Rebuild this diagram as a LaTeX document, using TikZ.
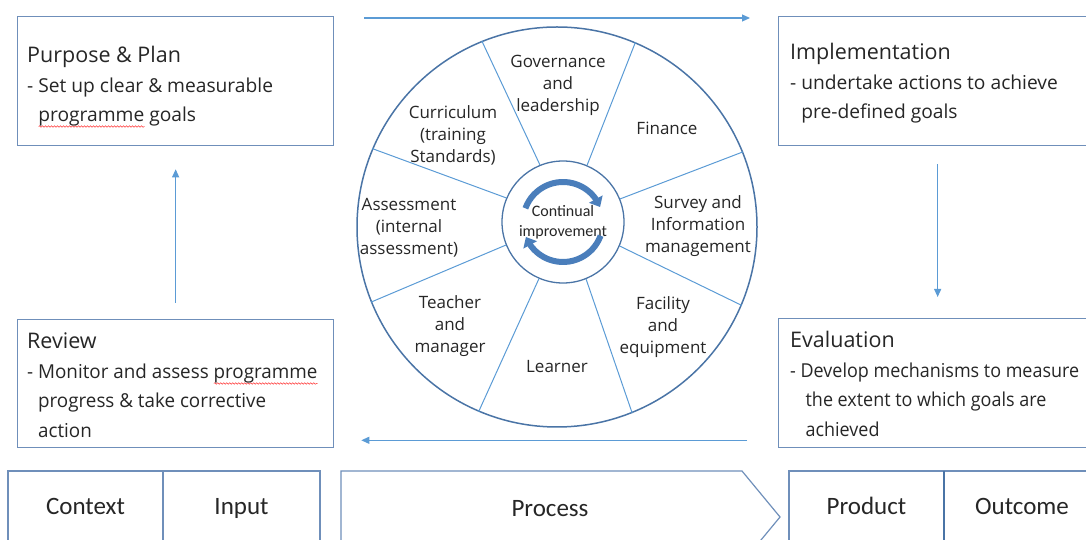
\documentclass[tikz,border=0pt]{standalone}
\usepackage{fontspec}
\setmainfont{Open Sans}
\newfontfamily\slimfont{Open Sans}[FakeStretch=0.98]
\newfontfamily\tightfont{Open Sans}[FakeStretch=0.935]
\newfontfamily\narrowfont{Carlito}
\usetikzlibrary{arrows.meta,bending,decorations.pathmorphing}

\definecolor{frame}{HTML}{6F8FBA}
\definecolor{flowblue}{HTML}{5B9BD5}
\definecolor{rim}{HTML}{4A74A6}
\definecolor{spinblue}{HTML}{4A7EBB}
\definecolor{ink}{HTML}{262626}

% stage heading, a little larger than the body
\newcommand\head[1]{{\fontsize{21.5}{29.5}\selectfont #1}}
% red spell-check wave under a word
\newlength\typowd
\newcommand\typo[1]{\settowidth\typowd{#1}\rlap{\tikz[baseline=0pt]
  \draw[red!80, line width=0.5pt, decorate, decoration={snake, amplitude=0.8pt, segment length=3pt}]
    (0pt,-5pt) -- (\typowd,-5pt);}#1}

\begin{document}
\begin{tikzpicture}[
  x=1pt, y=1pt,
  text=ink,
  stage/.style={draw=frame, line width=1.3pt, anchor=north west, inner sep=0pt,
                minimum height=129pt},
  note/.style={anchor=north west, align=left, inner sep=0pt,
               font=\fontsize{19.2}{29.5}\selectfont},
  sector/.style={align=center, font=\fontsize{17}{22}\selectfont},
  cell/.style={draw=frame, line width=1.2pt, anchor=north west, outer sep=0pt,
               minimum height=72pt, text height=20pt, text depth=4pt,
               font=\narrowfont\fontsize{25}{30}\selectfont},
  flow/.style={draw=flowblue, line width=1.1pt, -{Triangle[length=8pt,width=7pt]}},
  spoke/.style={draw=flowblue, line width=1pt},
  spin/.style={draw=spinblue, line width=6pt, -{Triangle[length=9pt,width=15pt,flex]}},
]
  \path[use as bounding box, clip] (0,0) rectangle (1086,540);

  % the four stages around the wheel
  \node[stage, minimum width=316pt] (plan) at (17,524) {};
  \node[stage, minimum width=318pt] (impl) at (778,524) {};
  \node[stage, minimum width=318pt, minimum height=129pt] (eval) at (778,222) {};
  \node[stage, minimum width=316pt, minimum height=128pt] (review) at (17,221) {};

  \node[note] (plantext) at ([shift={(10,-30)}]plan.north west)
    {\head{Purpose \& Plan}\\- Set up clear \& measurable\\\phantom{- }\typo{programme} goals};
  \node[note] (impltext) at ([shift={(12,-27)}]impl.north west)
    {\head{Implementation}\\- undertake actions to achieve\\\phantom{- }pre-defined goals};
  \node[note] (evaltext) at ([shift={(12,-13)}]eval.north west)
    {\head{Evaluation}\\\tightfont- Develop mechanisms to measure\\\tightfont\phantom{- }\hspace{5pt}the extent to which goals are\\\tightfont\phantom{- }\hspace{5pt}achieved};
  \node[note] (reviewtext) at ([shift={(10,-14)}]review.north west)
    {\head{Review}\\\slimfont- Monitor and assess \typo{programme}\\\slimfont\phantom{- }progress \& take corrective\\\slimfont\phantom{- }action};

  \draw[flow] ([shift={(30,-2)}]plan.north east) -- ([shift={(-28,-2)}]impl.north west);
  \draw[flow] ([yshift=-18]impl.south) -- ([yshift=21]eval.north);
  \draw[flow] ([shift={(-31,8)}]eval.south west) -- ([shift={(27,8)}]review.south east);
  \draw[flow] ([yshift=16]review.north) -- ([yshift=-23]plan.south);

  % wheel with eight sectors
  \node[circle, draw=rim, line width=1.5pt, minimum size=400pt, inner sep=0pt] (wheel) at (557,313) {};
  \node[circle, draw=rim, line width=1.3pt, minimum size=122pt, inner sep=0pt, align=center,
        font=\narrowfont\fontsize{16}{20}\selectfont] (hub) at (563,318) {Continual\\improvement};
  \foreach \a in {22.5,67.5,...,337.5}
    \draw[spoke] (hub.\a) -- (wheel.\a);
  \draw[spin] ([shift={(160:40)}]hub.center) arc[start angle=160, end angle=22, radius=40];
  \draw[spin] ([shift={(-20:40)}]hub.center) arc[start angle=-20, end angle=-158, radius=40];

  \node[sector] (gov) at (558,455) {Governance\\and\\leadership};
  \node[sector] (fin) at (667,412) {Finance};
  \node[sector] (survey) at (698,314) {Survey and\\Information\\management};
  \node[sector] (facility) at (663,213) {Facility\\and\\equipment};
  \node[sector] (learner) at (557,173) {Learner};
  \node[sector] (teacher) at (450,214) {Teacher\\and\\manager};
  \node[sector] (assess) at (409,312) {Assessment\\(internal\\assessment)};
  \node[sector] (curric) at (453,405) {Curriculum\\(training\\Standards)};

  % bottom band
  \node[cell, minimum width=155pt] (context) at (8,69) {Context};
  \node[cell, minimum width=157pt] (input) at (context.north east) {Input};
  \draw[draw=frame, line width=1.2pt] (341,-25) -- (341,69) -- (742,69) -- (780,23) -- (742,-23);
  \node[font=\narrowfont\fontsize{25}{30}\selectfont, text height=20pt, text depth=4pt] (process) at (550,31) {Process};
  \node[cell, minimum width=155pt] (product) at (789,69) {Product};
  \node[cell, minimum width=156pt] (outcome) at (product.north east) {Outcome};
  \draw[rim, line width=1.8pt] (outcome.north west) -- (outcome.south west);
\end{tikzpicture}
\end{document}
